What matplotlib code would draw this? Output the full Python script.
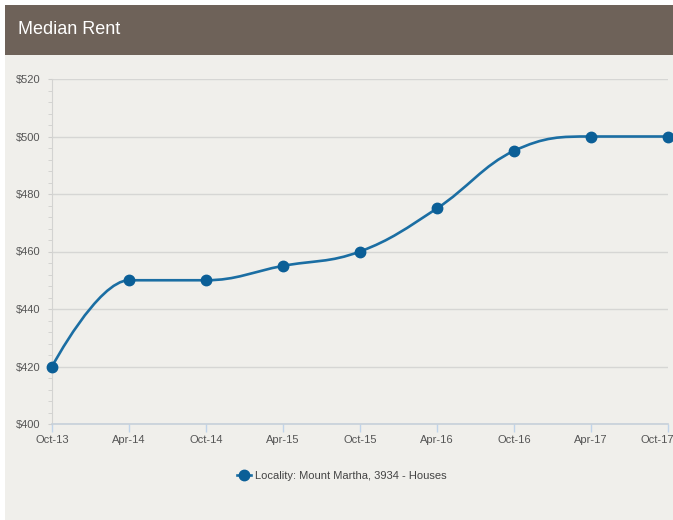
import matplotlib
matplotlib.use("Agg")
import matplotlib.pyplot as plt
from matplotlib.patches import Rectangle
from matplotlib.lines import Line2D
from matplotlib.path import Path
from matplotlib.patches import PathPatch
from matplotlib.ticker import MultipleLocator, FuncFormatter
import matplotlib.transforms as mtransforms
import numpy as np

categories = ["Oct-13", "Apr-14", "Oct-14", "Apr-15", "Oct-15", "Apr-16", "Oct-16", "Apr-17", "Oct-17"]
rent = [420, 450, 450, 455, 460, 475, 495, 500, 500]
series_label = "Locality: Mount Martha, 3934 - Houses"
title = "Median Rent"

FONT = ["Liberation Sans", "DejaVu Sans"]
plt.rcParams["font.family"] = FONT

W, H = 673, 520
fig = plt.figure(figsize=(W / 100, H / 100), dpi=100)
fig.patch.set_facecolor("white")

# panel + header
fig.patches.append(Rectangle((5 / W, 0), 1, 1 - 5 / H, transform=fig.transFigure,
                             facecolor="#f0efeb", edgecolor="none", zorder=-3))
fig.patches.append(Rectangle((5 / W, 1 - 55 / H), 1, 50 / H, transform=fig.transFigure,
                             facecolor="#6e6259", edgecolor="none", zorder=-2))
fig.text(18 / W, 1 - 30 / H, title, color="white", fontsize=13, va="center", ha="left")

left, right = 52 / W, 668 / W
bottom, top = 1 - 424 / H, 1 - 79 / H
ax = fig.add_axes([left, bottom, right - left, top - bottom])
ax.set_facecolor("none")

x = np.arange(len(rent), dtype=float)
y = np.array(rent, dtype=float)

# Highcharts-like spline
def spline_path(xs, ys, smoothing=1.5):
    n = len(xs)
    denom = smoothing + 1
    verts = [(xs[0], ys[0])]
    codes = [Path.MOVETO]
    lc = [None] * n
    rc = [None] * n
    for i in range(n):
        if 0 < i < n - 1:
            px, py = xs[i], ys[i]
            lx, ly = xs[i - 1], ys[i - 1]
            nx, ny = xs[i + 1], ys[i + 1]
            lcx = (smoothing * px + lx) / denom
            lcy = (smoothing * py + ly) / denom
            rcx = (smoothing * px + nx) / denom
            rcy = (smoothing * py + ny) / denom
            if rcx != lcx:
                corr = ((rcy - lcy) * (rcx - px)) / (rcx - lcx) + py - rcy
                lcy += corr
                rcy += corr
            if lcy > ly and lcy > py:
                lcy = max(ly, py)
                rcy = 2 * py - lcy
            elif lcy < ly and lcy < py:
                lcy = min(ly, py)
                rcy = 2 * py - lcy
            if rcy > ny and rcy > py:
                rcy = max(ny, py)
                lcy = 2 * py - rcy
            elif rcy < ny and rcy < py:
                rcy = min(ny, py)
                lcy = 2 * py - rcy
            lc[i] = (lcx, lcy)
            rc[i] = (rcx, rcy)
        else:
            lc[i] = (xs[i], ys[i])
            rc[i] = (xs[i], ys[i])
    for i in range(1, n):
        verts += [rc[i - 1], lc[i], (xs[i], ys[i])]
        codes += [Path.CURVE4] * 3
    return Path(verts, codes)

line_color = "#1b6ea3"
ax.add_patch(PathPatch(spline_path(x, y), facecolor="none", edgecolor=line_color,
                       lw=1.9, zorder=3, clip_on=False))
ax.plot(x, y, "o", color="#0b5f97", ms=7.5, zorder=4, clip_on=False)

ax.set_xlim(0, len(rent) - 1)
ax.set_ylim(400, 520)
ax.yaxis.set_major_locator(MultipleLocator(20))
ax.yaxis.set_minor_locator(MultipleLocator(4))
ax.yaxis.set_major_formatter(FuncFormatter(lambda v, p: f"${v:.0f}"))
ax.grid(axis="y", which="major", color="#d6d6d4", lw=1)
ax.set_axisbelow(True)
ax.set_xticks(x)
ax.set_xticklabels(categories)

for s in ["top", "right"]:
    ax.spines[s].set_visible(False)
ax.spines["left"].set_color("#d3d3d1")
ax.spines["bottom"].set_color("#c6d0da")
ax.spines["bottom"].set_linewidth(1.2)

ax.tick_params(axis="y", which="major", length=3, color="#cfcfcd", labelsize=8, labelcolor="#555555", pad=5.6)
ax.tick_params(axis="y", which="minor", length=3, color="#cfcfcd")
ax.tick_params(axis="x", direction="out", length=6, width=1, color="#c0d4ea",
               labelsize=8, labelcolor="#555555", pad=2)

# keep the last label inside the figure
last = ax.get_xticklabels()[-1]
last.set_transform(last.get_transform() + mtransforms.ScaledTranslation(-11 / 100, 0, fig.dpi_scale_trans))

handle = Line2D([], [], color=line_color, lw=1.9, marker="o", ms=7.5, mfc="#0b5f97", mec="#0b5f97")
fig.legend([handle], [series_label], loc="center", bbox_to_anchor=(342 / W, 1 - 476 / H),
           frameon=False, fontsize=8, labelcolor="#444444", handlelength=1.2, handletextpad=0.4)

fig.savefig("out.png", dpi=100, facecolor=fig.get_facecolor())
